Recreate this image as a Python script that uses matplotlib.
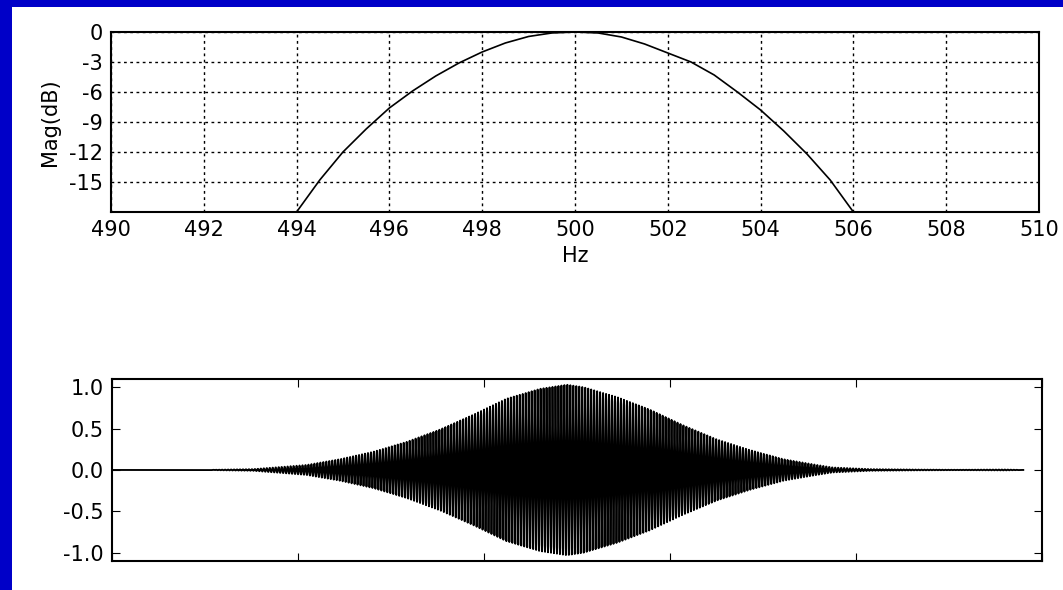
import numpy as np
import matplotlib
matplotlib.use('Agg')
import matplotlib.pyplot as plt
from matplotlib.patches import Rectangle

# filter magnitude response
freq_hz = [494.0, 494.5, 495.0, 495.5, 496.0, 496.5, 497.0, 497.5, 498.0,
           498.5, 499.0, 499.5, 500.0, 500.5, 501.0, 501.5, 502.0, 502.5,
           503.0, 503.5, 504.0, 504.5, 505.0, 505.5, 506.0]
mag_db = [-18.0, -14.8, -12.0, -9.7, -7.6, -5.9, -4.4, -3.1, -2.0,
          -1.1, -0.45, -0.1, 0.0, -0.1, -0.5, -1.2, -2.1, -3.0,
          -4.3, -6.0, -7.8, -9.9, -12.2, -14.8, -18.0]
freq_ticks = list(range(490, 511, 2))
mag_ticks = [0, -3, -6, -9, -12, -15]

# envelope of the filtered tone (sample index, amplitude)
env_n = [0, 500, 760, 1045, 1225, 1405, 1585, 1765, 1945, 2120, 2300, 2445,
         2535, 2715, 2890, 3070, 3250, 3430, 3610, 3790, 3875, 4075, 4350,
         4550, 4800, 4900]
env_amp = [0.0, 0.0, 0.01, 0.06, 0.13, 0.22, 0.34, 0.49, 0.67, 0.86, 0.98, 1.03,
           1.0, 0.88, 0.73, 0.54, 0.37, 0.24, 0.13, 0.06, 0.03, 0.01, 0.004,
           0.002, 0.005, 0.0]
fs = 8000.0
f0 = 500.0
n_samples = 4900
amp_ticks = [-1.0, -0.5, 0.0, 0.5, 1.0]

plt.rcParams['font.family'] = 'DejaVu Sans'
plt.rcParams['axes.unicode_minus'] = False

fig = plt.figure(figsize=(10.63, 5.90), dpi=100, facecolor='#0000c8')
# white page inside the blue border
fig.add_artist(Rectangle((12 / 1063, 0), 1, 1 - 7 / 590, transform=fig.transFigure,
                         facecolor='white', edgecolor='none', zorder=-10))

# top: magnitude response
ax1 = fig.add_axes([0.1044, 0.6407, 0.8730, 0.3051])
ax1.plot(freq_hz, mag_db, color='k', lw=1.2)
ax1.set_xlim(490, 510)
ax1.set_ylim(-18, 0)
ax1.set_xticks(freq_ticks)
ax1.set_yticks(mag_ticks)
ax1.set_xlabel('Hz', fontsize=15, labelpad=4)
ax1.set_ylabel('Mag(dB)', fontsize=15, labelpad=6)
ax1.grid(True, color='k', linestyle=(0, (2.0, 2.5)), linewidth=1.0)
ax1.tick_params(direction='in', top=True, right=True, labelsize=15, length=0, pad=6)

# bottom: time signal
n = np.arange(n_samples)
signal = np.interp(n, env_n, env_amp) * np.cos(2 * np.pi * f0 * n / fs)
ax2 = fig.add_axes([0.1054, 0.0492, 0.8749, 0.3085])
ax2.plot(n, signal, color='k', lw=1.35)
ax2.set_xlim(0, 5000)
ax2.set_ylim(-1.1, 1.1)
ax2.set_xticks(range(0, 5001, 1000))
ax2.set_xticklabels([])
ax2.set_yticks(amp_ticks)
ax2.tick_params(direction='in', top=True, right=True, labelsize=15, length=6, pad=6)

for ax in (ax1, ax2):
    for sp in ax.spines.values():
        sp.set_linewidth(1.5)

fig.savefig('out.png', dpi=100, facecolor=fig.get_facecolor())
